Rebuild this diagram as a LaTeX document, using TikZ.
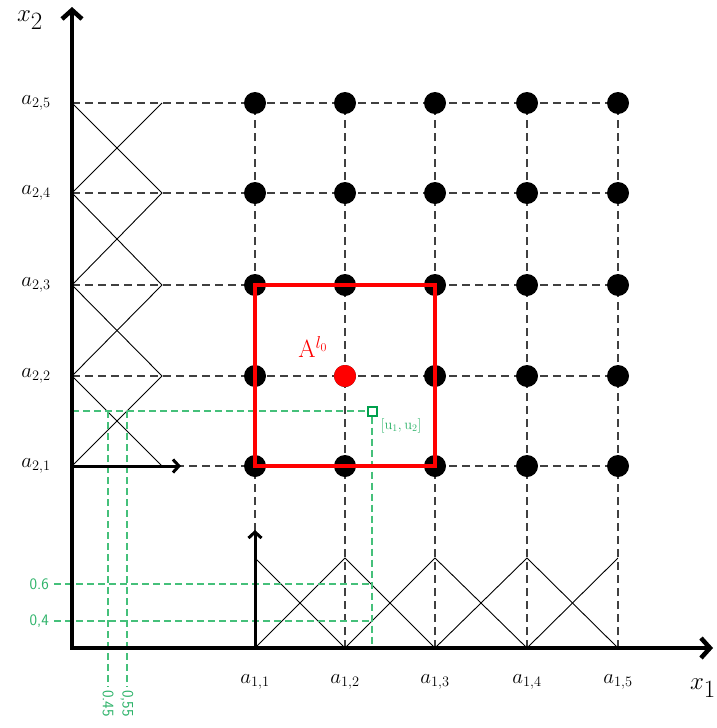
\documentclass[tikz,border=0pt]{standalone}
\usepackage{amsmath,amssymb}
\usepackage{tikz}
\usepackage{xcolor}
\usetikzlibrary{arrows.meta}
\definecolor{cellred}{HTML}{FF0000}
\definecolor{probegreen}{HTML}{45C07A}
\definecolor{probetext}{HTML}{2EB36A}
\definecolor{probedark}{HTML}{00A04C}
\definecolor{gridgray}{HTML}{404040}

\tikzset{
  gridline/.style={gridgray, line width=1.2pt, dash pattern=on 8pt off 5pt},
  hatline/.style={black, line width=0.9pt},
  probeline/.style={probegreen, line width=1.2pt, dash pattern=on 7pt off 4pt},
  gridpt/.style={circle, fill=black, inner sep=0pt, minimum size=22pt},
  axisline/.style={line width=4.5pt, line join=miter,
    {Straight Barb[length=9pt,width=20pt]}-{Straight Barb[length=9pt,width=20pt]}},
  basisarrow/.style={line width=3pt, -{Straight Barb[length=6pt,width=13pt]}},
  alabel/.style={font=\fontsize{21}{23}\selectfont},
  numlabel/.style={probetext, font=\fontsize{16}{18}\selectfont\sffamily, inner sep=1pt}
}

\begin{document}
\begin{tikzpicture}[x=1pt, y=-1pt]
  \useasboundingbox (0,0) rectangle (716,728);
  % knots on the two axes
  \coordinate (O) at (72,648);
  \coordinate (xend) at (713,648);
  \coordinate (yend) at (72,7);
  \foreach \i/\x in {1/255,2/345,3/435,4/527,5/618} {
    \coordinate (xa-\i) at (\x,648);
    \coordinate (xp-\i) at (\x,558);
  }
  \foreach \j/\y in {1/466,2/376,3/285,4/193,5/103} {
    \coordinate (ya-\j) at (72,\y);
    \coordinate (yp-\j) at (162,\y);
  }
  \foreach \i in {1,...,5}
    \foreach \j in {1,...,5}
      \coordinate (g-\i-\j) at (xa-\i |- ya-\j);

  % dashed grid
  \foreach \j in {1,...,5} \draw[gridline] (ya-\j) -- (g-5-\j);
  \foreach \i in {1,...,5} \draw[gridline] (xa-\i) -- (g-\i-5);

  % hat functions
  \draw[hatline] (xa-1) -- (xp-2) -- (xa-3) -- (xp-4) -- (xa-5);
  \draw[hatline] (xp-1) -- (xa-2) -- (xp-3) -- (xa-4) -- (xp-5);
  \draw[hatline] (ya-1) -- (yp-2) -- (ya-3) -- (yp-4) -- (ya-5);
  \draw[hatline] (yp-1) -- (ya-2) -- (yp-3) -- (ya-4) -- (yp-5);

  % evaluation point and its values
  \node[draw=probedark, fill=white, line width=2pt, minimum size=9pt, inner sep=0pt] (u) at (372,411) {};
  \node[probetext, font=\fontsize{14}{16}\selectfont, anchor=north west, inner sep=1pt] (ulab) at ([xshift=2pt,yshift=-1pt]u.south east) {$[\mathrm{u}_1,\mathrm{u}_2]$};
  \coordinate (uleft) at (O |- u);
  \draw[probeline] (uleft) -- (u);
  \draw[probeline] (u) -- (u |- O);
  \node[numlabel, anchor=east] (v6) at (50,584) {0.6};
  \node[numlabel, anchor=east] (v4) at (50,621) {0,4};
  \draw[probeline] (v6.east) ++(4,0) -- (u |- v6);
  \draw[probeline] (v4.east) ++(4,0) -- (u |- v4);
  \node[numlabel, rotate=-90, anchor=west] (w45) at (108,689) {0.45};
  \node[numlabel, rotate=-90, anchor=west] (w55) at (127,689) {0,55};
  \draw[probeline] (w45 |- u) -- ([yshift=2pt]w45.west);
  \draw[probeline] (w55 |- u) -- ([yshift=2pt]w55.west);

  % grid points
  \foreach \i in {1,...,5}
    \foreach \j in {1,...,5}
      \node[gridpt] (d-\i-\j) at (g-\i-\j) {};
  \node[gridpt, fill=cellred] (d-2-2) at (g-2-2) {};

  % support cell
  \draw[cellred, line width=3.5pt] (g-1-1) rectangle (g-3-3);
  \node[cellred, font=\fontsize{25}{27}\selectfont] (cell) at (313,347) {$\mathrm{A}^{l_0}$};
  \node[draw=probedark, fill=white, line width=2pt, minimum size=9pt, inner sep=0pt] at (u) {};

  % axes
  \draw[axisline] (yend) -- (O) -- (xend);
  \draw[basisarrow] (ya-1) -- (181,466);
  \draw[basisarrow] (xa-1) -- (255,530);
  \node[font=\fontsize{40}{42}\selectfont] (x2) at (30,20) {$x_2$};
  \node[font=\fontsize{40}{42}\selectfont] (x1) at (703,688) {$x_1$};
  \foreach \i in {1,...,5} {
    \node[alabel] (a1-\i) at ([yshift=-34pt]xa-\i) {$a_{1,\i}$};
    \node[alabel] (a2-\i) at ([xshift=-36pt]ya-\i) {$a_{2,\i}$};
  }
\end{tikzpicture}
\end{document}
